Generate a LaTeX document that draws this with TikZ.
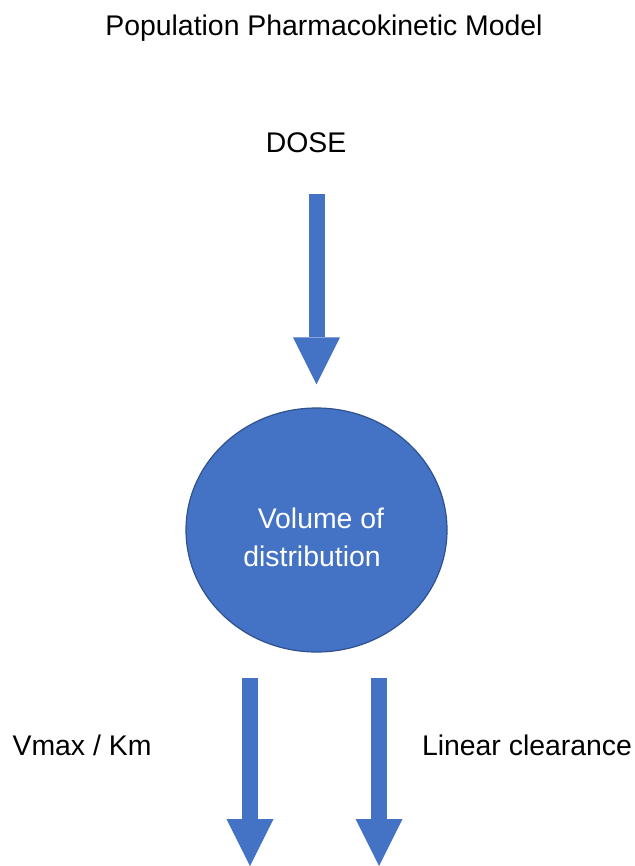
\documentclass[tikz,border=0pt]{standalone}
\usepackage{fontspec}
\setmainfont{Liberation Sans}
\usepackage{tikz}
\usetikzlibrary{arrows.meta,shapes.geometric,positioning}

\definecolor{pkblue}{HTML}{4472C4}
\definecolor{pkedge}{HTML}{2F528F}

\tikzset{
  txt/.style = {font=\fontsize{14.2}{19}\selectfont, inner sep=0pt},
  flow/.style = {pkblue, line width=8pt,
    -{Triangle[width=23.5pt,length=23.5pt,line width=0pt]}},
  compartment/.style = {ellipse, draw=pkedge, line width=0.6pt, fill=pkblue,
    minimum width=130.5pt, minimum height=122pt, inner sep=0pt,
    text=white, align=center}
}

\begin{document}
\begin{tikzpicture}[x=0.5pt, y=-0.5pt]
      \useasboundingbox (0, 0) rectangle (635, 866);
      \node [txt] (title) at (324, 28) {Population Pharmacokinetic Model};
      \node [txt] (dose) at (306, 143) {DOSE};
      \node [compartment] (vd) at (316.5, 530) {};
      \node [txt, text=white, align=center] (vdtext) at (317, 537) {\ Volume of\\distribution\hspace*{5pt}};
      \coordinate (dosein) at (316.5, 194);
      \coordinate (vmaxout) at (250, 866);
      \coordinate (linout) at (379, 866);
      \draw [flow] (dosein) -- ([yshift=11.5pt]vd.north);
      \draw [flow] ([yshift=-12.5pt]vd.south -| vmaxout) -- (vmaxout);
      \draw [flow] ([yshift=-12.5pt]vd.south -| linout) -- (linout);
      \node [txt] (vmax) at (82, 745) {Vmax / Km};
      \node [txt] (linear) at (527, 745) {Linear clearance};
    \end{tikzpicture}
\end{document}
